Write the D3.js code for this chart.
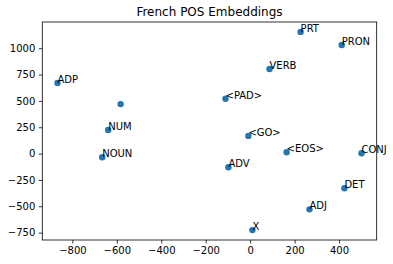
<!DOCTYPE html>
<html>
<head>
<meta charset="utf-8">
<script src="https://cdn.jsdelivr.net/npm/d3@7"></script>
<style>
body{margin:0;background:#fff;}
svg{display:block;font-family:"DejaVu Sans",sans-serif;}
</style>
</head>
<body>
<svg id="chart"></svg>
<script>
var labels=["ADP","","NUM","NOUN","PRT","PRON","VERB","<PAD>","<GO>","<EOS>","CONJ","ADV","DET","ADJ","X"];
var xs=[-867,-583,-639,-666,227,412,87,-111,-8,164,501,-98,424,267,10];
var ys=[670,470,225,-34,1155,1031,803,520,168,13,4,-129,-329,-529,-726];
var xTicks=[-800,-600,-400,-200,0,200,400];
var yTicks=[-750,-500,-250,0,250,500,750,1000];

var w=393;
var h=264;
var margin={top:22,bottom:24,left:42.3,right:16.3};

var points=labels.map(function(d,i){
  return {name:d,x:xs[i],y:ys[i]};
});

// matplotlib style 5% margins
var pad=function(ext){
  var m=(ext[1]-ext[0])*0.05;
  return [ext[0]-m,ext[1]+m];
}

var xScale=d3.scaleLinear()
             .domain(pad(d3.extent(xs)))
             .range([margin.left,w-margin.right]);
var yScale=d3.scaleLinear()
             .domain(pad(d3.extent(ys)))
             .range([h-margin.bottom,margin.top]);

var svg=d3.select("#chart")
          .attr("width",w)
          .attr("height",h);

svg.append("text")
   .attr("x",(margin.left+w-margin.right)/2)
   .attr("y",16)
   .attr("text-anchor","middle")
   .attr("font-size","12px")
   .attr("fill","#000")
   .text("French POS Embeddings");

var fmt=function(d){return d<0?"\u2212"+Math.abs(d):d;};
var xAxis=d3.axisBottom(xScale)
            .tickValues(xTicks)
            .tickSizeOuter(0)
            .tickSize(3.5)
            .tickPadding(3.5)
            .tickFormat(fmt);
var yAxis=d3.axisLeft(yScale)
            .tickValues(yTicks)
            .tickSizeOuter(0)
            .tickSize(3.5)
            .tickPadding(3.5)
            .tickFormat(fmt);

var gx=svg.append("g")
   .attr("transform","translate(0,"+(h-margin.bottom)+")")
   .call(xAxis);
var gy=svg.append("g")
   .attr("transform","translate("+margin.left+",0)")
   .call(yAxis);
[gx,gy].forEach(function(g){
  g.select(".domain").remove();
  g.selectAll("line").attr("stroke","#000").attr("stroke-width",0.8);
  g.selectAll("text").attr("font-size","10px").attr("fill","#000")
   .attr("font-family","DejaVu Sans");
});

svg.append("rect")
   .attr("x",margin.left)
   .attr("y",margin.top)
   .attr("width",w-margin.right-margin.left)
   .attr("height",h-margin.bottom-margin.top)
   .attr("fill","none")
   .attr("stroke","#000")
   .attr("stroke-width",0.8);

svg.append("g")
   .selectAll("circle")
   .data(points)
   .enter()
   .append("circle")
   .attr("cx",function(d){return xScale(d.x);})
   .attr("cy",function(d){return yScale(d.y);})
   .attr("r",3.2)
   .attr("fill","#1f77b4");

svg.append("g")
   .selectAll("text")
   .data(points)
   .enter()
   .append("text")
   .attr("x",function(d){return xScale(d.x);})
   .attr("y",function(d){return yScale(d.y);})
   .attr("font-size","10px")
   .attr("fill","#000")
   .text(function(d){return d.name;});
</script>
</body>
</html>
